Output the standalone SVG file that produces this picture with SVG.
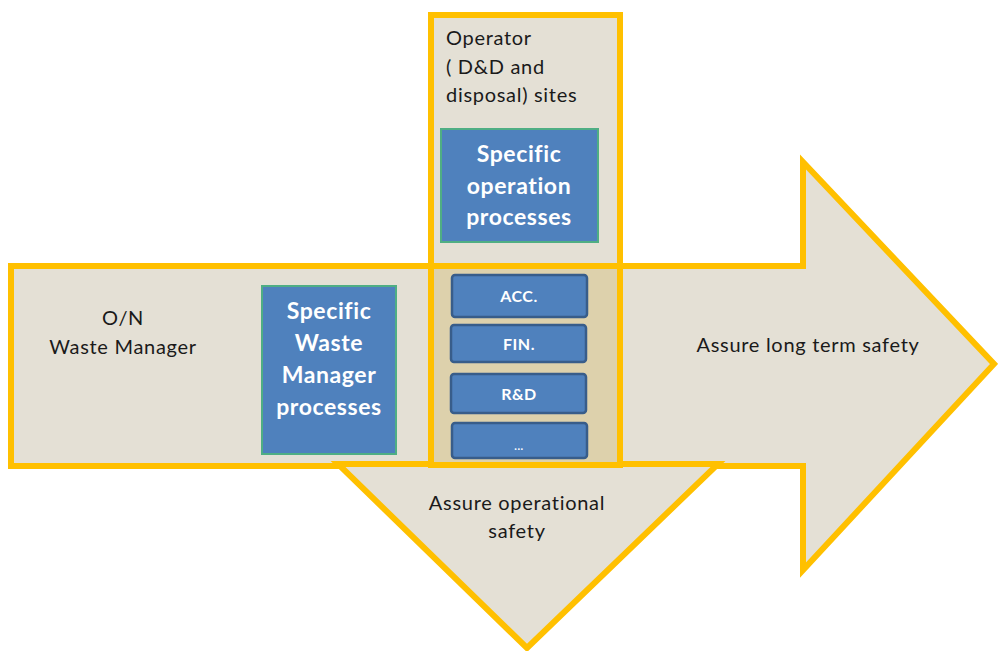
<svg xmlns="http://www.w3.org/2000/svg" width="998" height="651" viewBox="0 0 998 651">
<style>
.shape{fill:#E4E0D5;stroke:#FFC000;stroke-width:6;stroke-linejoin:miter}
.lbl{font-family:Lato,"Open Sans","Liberation Sans",sans-serif;font-size:20px;letter-spacing:0.7px;fill:#1a1a1a;text-anchor:middle}
.lbl-l{font-family:Lato,"Open Sans","Liberation Sans",sans-serif;font-size:20px;letter-spacing:0.7px;fill:#1a1a1a}
.big{fill:#4F81BD;stroke:#4FAE84;stroke-width:2}
.bt{font-family:Lato,"Open Sans","Liberation Sans",sans-serif;font-size:23px;letter-spacing:0.6px;font-weight:bold;fill:#fff;text-anchor:middle}
.small{fill:#4F81BD;stroke:#385D8A;stroke-width:2.5}
.st{font-family:Lato,"Open Sans","Liberation Sans",sans-serif;font-size:16px;letter-spacing:0.5px;font-weight:bold;fill:#fff;text-anchor:middle}
</style>
<rect width="998" height="651" fill="#fff"/>
<g id="long-term-arrow">
<path class="shape" d="M11,266 L803,266 L803,162 L994,364 L803,570 L803,466 L11,466 Z"/>
<text class="lbl" x="808" y="352">Assure long term safety</text>
</g>
<g id="operational-arrow">
<path class="shape" d="M338,464 L718,464 L527,648 Z"/>
<text class="lbl" x="517" y="510">Assure operational</text>
<text class="lbl" x="517" y="538">safety</text>
</g>
<g id="operator-column">
<rect class="shape" x="431" y="15" width="189" height="450"/>
<rect x="434" y="268" width="183" height="194" fill="#DDD1AC"/>
<line x1="428" y1="266" x2="623" y2="266" stroke="#FFC000" stroke-width="6"/>
<text class="lbl-l" x="446" y="45">Operator</text>
<text class="lbl-l" x="446" y="74">( D&amp;D and</text>
<text class="lbl-l" x="446" y="102">disposal) sites</text>
</g>
<g id="waste-manager">
<text class="lbl" x="123" y="325">O/N</text>
<text class="lbl" x="123" y="354">Waste Manager</text>
</g>
<g id="specific-operation">
<rect class="big" x="441" y="129" width="157" height="113"/>
<text class="bt" x="519" y="162">Specific</text>
<text class="bt" x="519" y="194">operation</text>
<text class="bt" x="519" y="225">processes</text>
</g>
<g id="specific-waste">
<rect class="big" x="262" y="286" width="134" height="168"/>
<text class="bt" x="329" y="319">Specific</text>
<text class="bt" x="329" y="351">Waste</text>
<text class="bt" x="329" y="383">Manager</text>
<text class="bt" x="329" y="415">processes</text>
</g>
<g id="acc">
<rect class="small" x="452" y="275" width="135" height="42" rx="3"/>
<text class="st" x="519" y="302">ACC.</text>
</g>
<g id="fin">
<rect class="small" x="451" y="325" width="135" height="37" rx="3"/>
<text class="st" x="519" y="350">FIN.</text>
</g>
<g id="rd">
<rect class="small" x="451" y="374" width="135" height="39" rx="3"/>
<text class="st" x="519" y="400">R&amp;D</text>
</g>
<g id="more">
<rect class="small" x="452" y="423" width="135" height="35" rx="3"/>
<text class="st" x="519" y="450" style="font-size:11px">...</text>
</g>
<g id="connectors"/>
</svg>
